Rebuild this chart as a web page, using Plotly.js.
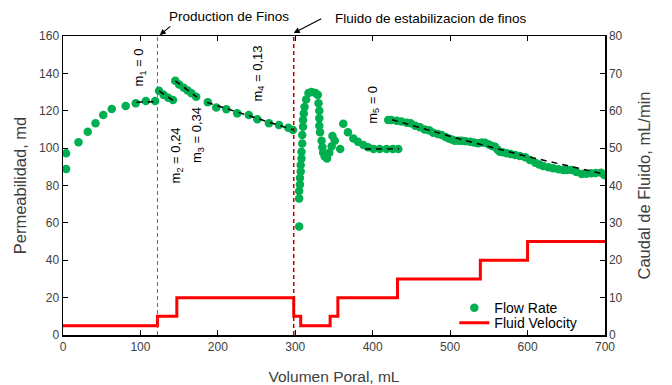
<!DOCTYPE html>
<html>
<head>
<meta charset="utf-8">
<script src="https://cdn.plot.ly/plotly-3.0.1.min.js"></script>
<style>html,body{margin:0;padding:0;background:#fff}#chart{width:672px;height:385px}</style>
</head>
<body>
<div id="chart"></div>
<script>
// Permeability measurements (Flow Rate series) – pore volume in mL, permeability in md
const poreVolume = [
  4, 4, 20, 32, 42, 52, 63, 81, 94, 107, 119,
  124, 130, 136, 142,
  145, 150, 156, 161, 166, 172,
  187, 198, 211, 225, 240, 251, 266, 279, 291, 297,
  305, 305, 305, 306, 306, 307, 307, 308, 308, 309, 309, 310, 310, 311, 312, 314, 317, 321, 326, 329,
  330, 331, 331, 331, 332, 334, 335, 336, 338, 341, 344, 347, 348, 351, 358,
  362, 368, 375, 381, 388, 394, 401, 409, 418, 426, 433,
  420, 424, 431, 437, 444, 449, 455, 461, 467, 473, 478, 484, 489, 494, 498, 502, 506, 511, 515, 520,
  526, 531, 536, 541, 545, 550, 554, 558, 561, 564, 568, 573, 578, 584, 590, 597, 603, 610, 615, 620,
  627, 633, 640, 646, 651, 657, 663, 670, 676, 682, 688, 695, 699
];
const permeability = [
  88.8, 97.2, 103.1, 108.8, 113.3, 117.7, 120.9, 122.5, 124.0, 125.2, 125.2,
  130.7, 128.5, 127.0, 125.7,
  136.0, 134.0, 132.3, 130.8, 129.4, 127.5,
  124.6, 121.8, 120.8, 118.6, 117.7, 115.4, 113.3, 112.4, 110.9, 109.7,
  58, 73, 77, 80.5, 84, 87.5, 91, 94.5, 98, 102.5, 107, 111.5, 115, 118.5, 122, 126, 129.5, 130, 129.5, 128.5,
  124, 120, 116, 112, 108.5, 104, 100.5, 97.5, 95.5, 94.5, 97.5, 101, 106.5, 104, 99.5,
  113, 108.5, 105.2, 103.4, 101.7, 100.5, 99.5, 99.5, 99.5, 99.5, 99.5,
  115.0, 115.0, 114.7, 114.2, 113.6, 113.3, 112.0, 111.2, 110.0, 109.5, 108.2, 107.5, 107.0, 106.0, 105.2, 104.6, 104.0, 104.0, 104.0, 103.7,
  103.4, 103.0, 102.6, 103.0, 102.9, 102.0, 101.2, 100.7, 99.3, 98.1, 97.8, 97.2, 96.8, 96.3, 95.8, 95.1, 93.6, 92.2, 91.3, 90.4,
  89.8, 89.2, 88.7, 88.3, 88.3, 88.3, 87.2, 86.1, 86.3, 86.5, 86.7, 86.8, 85.6
];

// Fluid velocity steps (right axis, mL/min)
const velocityVolume = [0, 122, 147, 298, 307, 345, 355, 432, 539, 600, 700];
const velocityRate = [2.5, 5, 10, 5, 2.5, 5, 10, 15, 20, 25, 25];

// Fitted slope segments (dashed black)
const fitVolume = [95, 122, null, 124, 142, null, 145, 173, null, 186, 297, null, 390, 434, null, 425, 520, 600, 700];
const fitPerm = [124.6, 124.8, null, 130.6, 125.6, null, 136.0, 127.3, null, 124.5, 109.8, null, 99.5, 99.5, null, 115.2, 104.0, 95.5, 86.0];

// Event markers
const eventVolume = [122, 298];
const eventLabels = ['Production de Finos', 'Fluido de estabilizacion de finos'];
const slopeLabels = ['m<sub>1</sub> = 0', 'm<sub>2</sub> = 0,24', 'm<sub>3</sub> = 0,34', 'm<sub>4</sub> = 0,13', 'm<sub>5</sub> = 0'];
const slopeLabelX = [99, 147, 173, 252, 400];
const slopeLabelY = [143, 96, 107, 140, 123];

const xTicks = [0, 100, 200, 300, 400, 500, 600, 700];

const FONT = 'Liberation Sans, Arial, sans-serif';
const TXT = '#404040';

const traces = [
  {
    x: poreVolume, y: permeability, type: 'scatter', mode: 'markers', name: 'Flow Rate',
    marker: {color: '#00B050', size: 8.5}, legend: 'legend'
  },
  {
    x: fitVolume, y: fitPerm, type: 'scatter', mode: 'lines', showlegend: false,
    line: {color: '#000', width: 1.5, dash: '6px,5px'}, hoverinfo: 'skip', connectgaps: false
  },
  {
    x: velocityVolume, y: velocityRate, type: 'scatter', mode: 'lines', name: 'Fluid Velocity',
    yaxis: 'y2', line: {color: '#FF0000', width: 3, shape: 'hv'}, legend: 'legend2'
  }
];

const axisCommon = {
  showgrid: false, zeroline: false, showline: true, linecolor: '#000', linewidth: 1.5,
  ticks: 'inside', ticklen: 5, tickcolor: '#000', tickwidth: 1.2,
  tickfont: {family: FONT, size: 12, color: TXT}
};

const annotations = [
  {
    xref: 'x', yref: 'paper', x: 215, y: 1.064, yanchor: 'middle', text: eventLabels[0], showarrow: false,
    font: {family: FONT, size: 13.5, color: '#000'}
  },
  {
    xref: 'x', yref: 'paper', x: 475, y: 1.06, yanchor: 'middle', text: eventLabels[1], showarrow: false,
    font: {family: FONT, size: 13.5, color: '#000'}
  },
  {
    xref: 'x', yref: 'paper', x: eventVolume[0] + 3, y: 1.003, text: '', showarrow: true,
    ax: 12, ay: -10, arrowhead: 2, arrowsize: 1, arrowwidth: 1.2, arrowcolor: '#000'
  },
  {
    xref: 'x', yref: 'paper', x: eventVolume[1], y: 1.01, text: '', showarrow: true,
    ax: 29, ay: -15, arrowhead: 2, arrowsize: 1, arrowwidth: 1.2, arrowcolor: '#000'
  }
];
slopeLabels.forEach((t, i) => annotations.push({
  xref: 'x', yref: 'y', x: slopeLabelX[i], y: slopeLabelY[i], text: t, textangle: -90,
  showarrow: false, font: {family: FONT, size: 13, color: '#000'}
}));

const layout = {
  width: 672, height: 385,
  margin: {l: 63, r: 67, t: 36, b: 50},
  paper_bgcolor: '#fff', plot_bgcolor: '#fff',
  font: {family: FONT, color: TXT},
  xaxis: Object.assign({}, axisCommon, {
    range: [0, 700], tickvals: xTicks, mirror: 'ticks',
    title: {text: 'Volumen Poral, mL', font: {family: FONT, size: 15.5, color: TXT}, standoff: 18}
  }),
  yaxis: Object.assign({}, axisCommon, {
    range: [0, 160], dtick: 20,
    title: {text: 'Permeabilidad, md', font: {family: FONT, size: 16.5, color: TXT}, standoff: 8}
  }),
  yaxis2: Object.assign({}, axisCommon, {
    range: [0, 80], dtick: 10, overlaying: 'y', side: 'right',
    title: {text: 'Caudal de Fluido, mL/min', font: {family: FONT, size: 16.5, color: TXT}, standoff: 17}
  }),
  legend: {
    x: 0.722, y: 0.09, xanchor: 'left', yanchor: 'middle', bgcolor: 'rgba(0,0,0,0)',
    font: {family: FONT, size: 14, color: '#000'}, borderwidth: 0
  },
  legend2: {
    x: 0.722, y: 0.04, xanchor: 'left', yanchor: 'middle', bgcolor: 'rgba(0,0,0,0)',
    font: {family: FONT, size: 14, color: '#000'}, borderwidth: 0
  },
  shapes: [
    {type: 'line', xref: 'x', yref: 'paper', x0: eventVolume[0], x1: eventVolume[0], y0: 0, y1: 1,
     line: {color: '#666', width: 1, dash: '4px,3px'}},
    {type: 'line', xref: 'x', yref: 'paper', x0: eventVolume[1], x1: eventVolume[1], y0: 0, y1: 1,
     line: {color: '#C00000', width: 1.5, dash: '4px,3px'}}
  ],
  annotations: annotations,
  showlegend: true
};

Plotly.newPlot('chart', traces, layout, {displayModeBar: false, staticPlot: true});
</script>
</body>
</html>
